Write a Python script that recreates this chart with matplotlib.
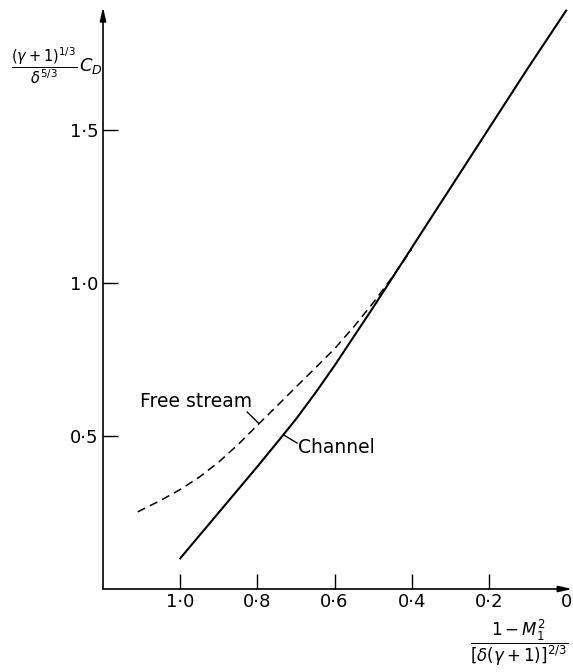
import matplotlib
matplotlib.use("Agg")
import matplotlib.pyplot as plt

# values
channel_x = [1.0, 0.95, 0.9, 0.85, 0.8, 0.75, 0.7, 0.65, 0.6, 0.5, 0.4, 0.3, 0.2, 0.1, 0.0]
channel_y = [0.10, 0.175, 0.25, 0.325, 0.40, 0.477, 0.555, 0.64, 0.73, 0.92, 1.115, 1.31, 1.505, 1.70, 1.89]

free_x = [1.11, 1.05, 1.0, 0.95, 0.9, 0.85, 0.8, 0.75, 0.7, 0.65, 0.6, 0.55, 0.5, 0.45, 0.4]
free_y = [0.252, 0.29, 0.325, 0.366, 0.415, 0.472, 0.535, 0.597, 0.66, 0.722, 0.785, 0.857, 0.935, 1.02, 1.11]

xticks = [1.0, 0.8, 0.6, 0.4, 0.2, 0.0]
xtick_labels = ["1\u00b70", "0\u00b78", "0\u00b76", "0\u00b74", "0\u00b72", "0"]
yticks = [0.5, 1.0, 1.5]
ytick_labels = ["0\u00b75", "1\u00b70", "1\u00b75"]

plt.rcParams["lines.scale_dashes"] = False

W, H = 573, 672
fig = plt.figure(figsize=(W / 100, H / 100), dpi=100)
ax = fig.add_axes([103 / W, (H - 589) / H, 1 - 103 / W, 589 / H])
ax.set_xlim(1.2, -0.018)
ax.set_ylim(0, 589 / 306)

ax.plot(channel_x, channel_y, color="black", lw=1.5)
ax.plot(free_x, free_y, color="black", lw=1.1, linestyle=(0, (6, 3.8)))

for s in ax.spines.values():
    s.set_visible(False)

# axes drawn as arrows
arrow = dict(arrowstyle="-|>,head_length=0.8,head_width=0.18", color="black", lw=1.2,
             shrinkA=0, shrinkB=0)
ax.annotate("", xy=(1.2, 1.902), xytext=(1.2, 0), arrowprops=arrow, annotation_clip=False)
ax.annotate("", xy=(-0.016, 0), xytext=(1.2, 0), arrowprops=arrow, annotation_clip=False)

ax.set_xticks(xticks)
ax.set_xticklabels(xtick_labels)
ax.set_yticks(yticks)
ax.set_yticklabels(ytick_labels)
ax.tick_params(direction="in", length=11, width=1.0, labelsize=13, pad=3)
ax.xaxis.get_major_ticks()[-1].tick1line.set_visible(False)

# curve labels with leader lines
ax.text(0.96, 0.614, "Free stream", fontsize=13.5, ha="center", va="center")
ax.plot([0.826, 0.797], [0.578, 0.542], color="black", lw=1.0)
ax.text(0.695, 0.463, "Channel", fontsize=13.5, ha="left", va="center")
ax.plot([0.730, 0.697], [0.502, 0.477], color="black", lw=1.0)

# axis titles
fig.text(44 / W, 1 - 66 / H, r"$\dfrac{(\gamma+1)^{1/3}}{\delta^{5/3}}$",
         fontsize=10.5, ha="center", va="center")
fig.text(79 / W, 1 - 66 / H, r"$C_D$", fontsize=13, ha="left", va="center")
fig.text(519 / W, 1 - 643 / H, r"$\dfrac{1-M_1^2}{[\delta(\gamma+1)]^{2/3}}$",
         fontsize=12, ha="center", va="center")

fig.savefig("out.png", dpi=100)
